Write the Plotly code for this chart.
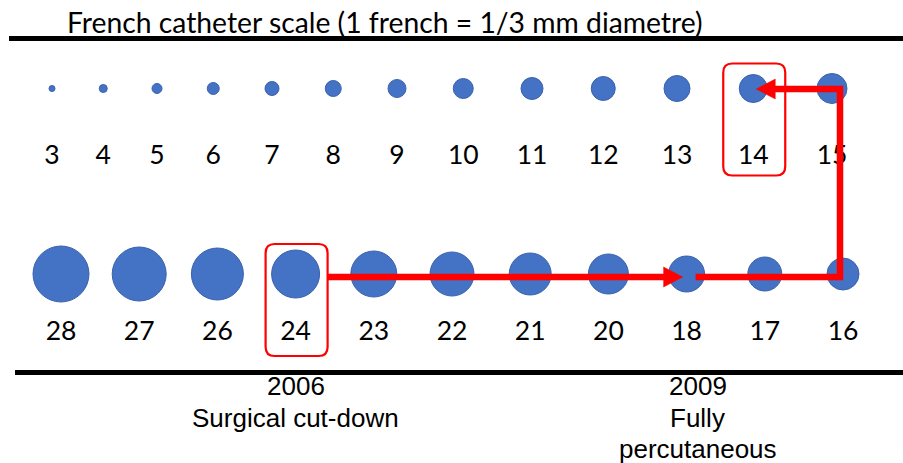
import plotly.graph_objects as go

# ---------------- data ----------------
TITLE = "French catheter scale (1 french = 1/3 mm diametre)"
TOP_FRENCH = [3, 4, 5, 6, 7, 8, 9, 10, 11, 12, 13, 14, 15]
BOTTOM_FRENCH = [28, 27, 26, 24, 23, 22, 21, 20, 18, 17, 16]
HIGHLIGHTED = [14, 24]
MILESTONE_YEARS = ["2006", "2009"]
MILESTONE_TEXT = [["Surgical cut-down"], ["Fully", "percutaneous"]]
MILESTONE_FRENCH = [24, 18]

# ---------------- layout constants ----------------
W, H = 903, 463
TOP_ROW_Y, TOP_LABEL_Y = 88.5, 157
BOT_ROW_Y, BOT_LABEL_Y = 274, 333
TOP_START, PACK_GAP, PACK_K = 52, 42.5, 1.25
BOT_START, BOT_END = 61, 843
PX_PER_FRENCH = 2.0
BLUE, BLUE_EDGE, RED = "#4472C4", "#3A62AC", "#FF0000"
NUM_FONT = "Lato"
TXT_FONT = "Liberation Sans"
MILESTONE_Y0, MILESTONE_DY = 386, 31.5

# top row: circles packed side by side (spacing grows with circle size)
top_x = [TOP_START]
for prev, cur in zip(TOP_FRENCH[:-1], TOP_FRENCH[1:]):
    top_x.append(top_x[-1] + PACK_GAP + PACK_K * (prev + cur))
# bottom row: evenly spaced
step = (BOT_END - BOT_START) / (len(BOTTOM_FRENCH) - 1)
bot_x = [BOT_START + i * step for i in range(len(BOTTOM_FRENCH))]

pos = {}
for f, x in zip(TOP_FRENCH, top_x):
    pos[f] = (x, TOP_ROW_Y)
for f, x in zip(BOTTOM_FRENCH, bot_x):
    pos[f] = (x, BOT_ROW_Y)

fig = go.Figure()
for xs, frs, ry, ly in [(top_x, TOP_FRENCH, TOP_ROW_Y, TOP_LABEL_Y),
                        (bot_x, BOTTOM_FRENCH, BOT_ROW_Y, BOT_LABEL_Y)]:
    fig.add_trace(go.Scatter(
        x=xs, y=[ry] * len(xs), mode="markers",
        marker=dict(size=[PX_PER_FRENCH * f for f in frs], color=BLUE, opacity=1,
                    line=dict(color=BLUE_EDGE, width=1)),
        hoverinfo="skip", showlegend=False))
    fig.add_trace(go.Scatter(
        x=xs, y=[ly] * len(xs), mode="text", text=[str(f) for f in frs],
        textposition="middle center",
        textfont=dict(family=NUM_FONT, size=26.5, color="black"),
        hoverinfo="skip", showlegend=False))

shapes = []
# black rules
shapes.append(dict(type="line", x0=9, x1=W, y0=38.5, y1=38.5,
                   line=dict(color="black", width=5), layer="below"))
shapes.append(dict(type="line", x0=15, x1=W, y0=372.5, y1=372.5,
                   line=dict(color="black", width=5), layer="below"))


def rounded_box(cx, top, w, h, r):
    l, rr, b = cx - w / 2, cx + w / 2, top + h
    return (f"M {l+r},{top} L {rr-r},{top} Q {rr},{top} {rr},{top+r} "
            f"L {rr},{b-r} Q {rr},{b} {rr-r},{b} L {l+r},{b} "
            f"Q {l},{b} {l},{b-r} L {l},{top+r} Q {l},{top} {l+r},{top} Z")


BOX_W, BOX_H = 62, 112
for f in HIGHLIGHTED:
    cx, cy = pos[f]
    top = cy - 25 if f in TOP_FRENCH else cy - 30
    shapes.append(dict(type="path", path=rounded_box(cx + 1, top, BOX_W, BOX_H, 9),
                       line=dict(color=RED, width=2.2), fillcolor="rgba(0,0,0,0)"))

box24_right = pos[24][0] + 1 + BOX_W / 2
x18, y18 = pos[18]
x16, y16 = pos[16]
x14, y14 = pos[14]
AW = 6.5
HEAD_L, HEAD_HW = 19, 10
arrow_y = BOT_ROW_Y + 3
tip1 = x18 - 4
shapes.append(dict(type="path",
                   path=f"M {box24_right},{arrow_y} L {tip1-HEAD_L+2},{arrow_y}",
                   line=dict(color=RED, width=AW)))
shapes.append(dict(type="path",
                   path=f"M {tip1-HEAD_L},{arrow_y-HEAD_HW} L {tip1},{arrow_y} L {tip1-HEAD_L},{arrow_y+HEAD_HW} Z",
                   line=dict(color=RED, width=0.5), fillcolor=RED))
vx = x16 - 3
tip2 = x14 + 3
top_arrow_y = y14 + 0.5
shapes.append(dict(type="path",
                   path=f"M {x18+9},{arrow_y} L {vx},{arrow_y} L {vx},{top_arrow_y} L {tip2+HEAD_L-2},{top_arrow_y}",
                   line=dict(color=RED, width=AW), fillcolor="rgba(0,0,0,0)"))
shapes.append(dict(type="path",
                   path=f"M {tip2+HEAD_L},{top_arrow_y-HEAD_HW} L {tip2},{top_arrow_y} L {tip2+HEAD_L},{top_arrow_y+HEAD_HW} Z",
                   line=dict(color=RED, width=0.5), fillcolor=RED))

annotations = [dict(x=65, y=22, xref="x", yref="y", text=TITLE, showarrow=False,
                    xanchor="left", yanchor="middle",
                    font=dict(family=NUM_FONT, size=28.3, color="black"))]
for yr, lines, f in zip(MILESTONE_YEARS, MILESTONE_TEXT, MILESTONE_FRENCH):
    cx = pos[f][0] + (0 if f == 24 else 11)
    for i, line in enumerate([yr] + lines):
        annotations.append(dict(x=cx, y=MILESTONE_Y0 + i * MILESTONE_DY,
                                xref="x", yref="y", text=line,
                                showarrow=False, xanchor="center", yanchor="middle",
                                font=dict(family=TXT_FONT, size=26, color="black")))

fig.update_layout(
    width=W, height=H, margin=dict(l=0, r=0, t=0, b=0),
    paper_bgcolor="white", plot_bgcolor="white",
    xaxis=dict(range=[0, W], visible=False, fixedrange=True),
    yaxis=dict(range=[H, 0], visible=False, fixedrange=True),
    shapes=shapes, annotations=annotations, showlegend=False,
)
fig.write_html("out.html", config={"displayModeBar": False},
               post_script="document.body.style.margin='0';document.body.style.overflow='hidden';")
